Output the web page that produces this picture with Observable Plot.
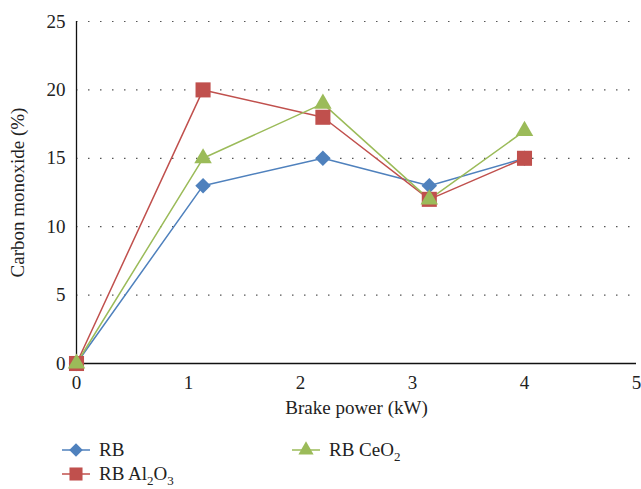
<!DOCTYPE html>
<html><head><meta charset="utf-8">
<script src="https://cdn.jsdelivr.net/npm/d3@7"></script>
<script src="https://cdn.jsdelivr.net/npm/@observablehq/plot@0.6"></script>
<style>
body{margin:0;background:#fff;font-family:"Liberation Serif","Times New Roman","DejaVu Serif",serif;}
#wrap{position:relative;width:641px;height:489px;overflow:hidden;}
#chart svg, #chart svg text{font-family:"Liberation Serif","Times New Roman","DejaVu Serif",serif !important;font-size:19px !important;fill:#222;}
.leg{position:absolute;font-size:19px;color:#222;display:flex;align-items:center;}
.leg svg{margin-right:8px;}
sub{font-size:13px;vertical-align:-5px;line-height:0}
</style></head><body>
<div id="wrap"><div id="chart"></div></div>
<script>
const power = [0, 1.13, 2.2, 3.15, 4.0];
const rb = [0, 13, 15, 13, 15];
const rbAl2O3 = [0, 20, 18, 12, 15];
const rbCeO2 = [0, 15, 19, 12, 17];
const yTicks = [0, 5, 10, 15, 20, 25];
const xTicks = [0, 1, 2, 3, 4, 5];
const seriesNames = ["RB", "RB Al2O3", "RB CeO2"];
const colors = ["#4F81BD", "#C0504D", "#9BBB59"];
const symbols = ["diamond2", "square", "triangle"];
const radii = [7, 8.5, 6.5];

const all = [rb, rbAl2O3, rbCeO2];
const data = [];
all.forEach((s, i) => s.forEach((v, j) => data.push({x: power[j], y: v, s: seriesNames[i]})));

const chart = Plot.plot({
  width: 641, height: 425,
  marginLeft: 76, marginRight: 5, marginTop: 21, marginBottom: 62,
  style: {fontFamily: "'Liberation Serif', 'Times New Roman', serif", fontSize: "19px", color: "#222", background: "white"},
  x: {domain: [0, 5]},
  y: {domain: [0, 25]},
  color: {domain: seriesNames, range: colors},
  symbol: {domain: seriesNames, range: symbols},
  marks: [
    Plot.gridY(yTicks.filter(d => d > 0), {stroke: "#555", strokeOpacity: 1, strokeDasharray: "1.5,10.5", strokeWidth: 1.2}),
    Plot.axisX(xTicks, {tickFormat: d => String(d), tickSize: 0, tickPadding: 12, fontSize: 19, label: "Brake power (kW)", labelAnchor: "center", labelOffset: 50, labelArrow: "none"}),
    Plot.axisY(yTicks, {tickFormat: d => String(d), tickSize: 0, tickPadding: 11, fontSize: 19, label: "Carbon monoxide (%)", labelAnchor: "center", labelOffset: 66, labelArrow: "none"}),
    Plot.ruleX([0], {stroke: "#111", strokeWidth: 1.3}),
    Plot.ruleY([0], {stroke: "#111", strokeWidth: 1.3}),
    Plot.lineY(data, {x: "x", y: "y", z: "s", stroke: "s", strokeWidth: 1.5}),
    ...seriesNames.map((n, i) => Plot.dot(data.filter(d => d.s === n), {x: "x", y: "y", fill: colors[i], symbol: () => n, r: radii[i], stroke: "none"}))
  ]
});
document.getElementById("chart").appendChild(chart);

// HTML legend
const wrap = document.getElementById("wrap");
function marker(i){
  const sym = d3.symbol().type([d3.symbolDiamond2, d3.symbolSquare, d3.symbolTriangle][i]).size(Math.PI*radii[i]*radii[i]*0.75)();
  return `<svg width="30" height="18"><line x1="1" x2="29" y1="9" y2="9" stroke="${colors[i]}" stroke-width="1.5"/><path transform="translate(15,9)" d="${sym}" fill="${colors[i]}"/></svg>`;
}
const labels = ["RB", "RB Al<sub>2</sub>O<sub>3</sub>", "RB CeO<sub>2</sub>"];
const pos = [[61, 439], [61, 463], [291, 439]];
labels.forEach((l, i) => {
  const d = document.createElement("div");
  d.className = "leg";
  d.style.left = pos[i][0] + "px";
  d.style.top = pos[i][1] + "px";
  d.innerHTML = marker(i) + "<span>" + l + "</span>";
  wrap.appendChild(d);
});
</script>
</body></html>
